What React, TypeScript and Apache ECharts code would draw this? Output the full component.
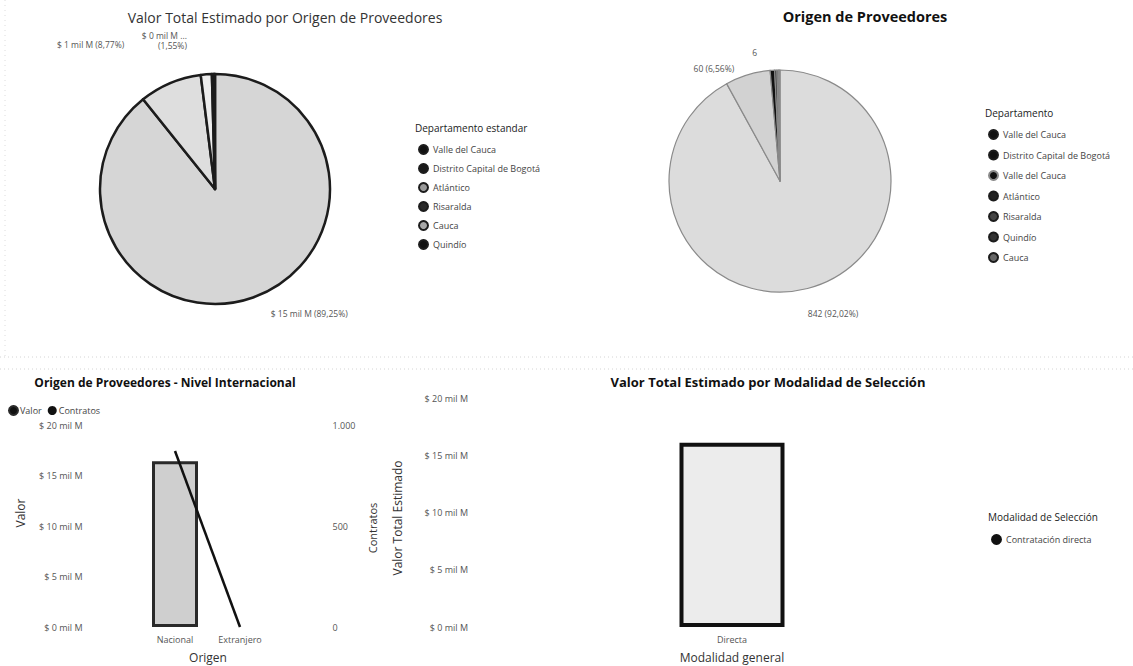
import React, { useEffect, useRef } from "react";
import * as echarts from "echarts";

// ---- data (values in "mil M") ----
const deptNames = ["Valle del Cauca", "Distrito Capital de Bogotá", "Atlántico", "Risaralda", "Cauca", "Quindío"];
const deptValor = [15.0, 1.474, 0.2605, 0.04, 0.02, 0.0125];
const deptColors = ["#d6d6d6", "#dedede", "#ededed", "#222222", "#bdbdbd", "#111111"];
const deptLegendColors = ["#111111", "#1a1a1a", "#9a9a9a", "#2a2a2a", "#a8a8a8", "#111111"];

const contrNames = ["Valle del Cauca", "Distrito Capital de Bogotá", "Valle del Cauca ", "Atlántico", "Risaralda", "Quindío", "Cauca"];
const contrValues = [842, 60, 6, 3, 2, 1, 1];
const contrColors = ["#dcdcdc", "#d2d2d2", "#111111", "#333333", "#555555", "#222222", "#777777"];
const contrLegendColors = ["#111111", "#111111", "#111111", "#222222", "#444444", "#333333", "#666666"];

const origenCategories = ["Nacional", "Extranjero"];
const origenValor = [16.4, 0];
const origenContratos = [871, 0];

const modalidadCategories = ["Directa"];
const modalidadValor = [16.1];

const FONT = "'Open Sans', 'DejaVu Sans', sans-serif";

const fmtMil = (v: number) => `$ ${Math.round(v)} mil M`;
const fmtPct = (p: number) => p.toFixed(2).replace(".", ",") + "%";
const fmtThousands = (v: number) => String(v).replace(/\B(?=(\d{3})+(?!\d))/g, ".");

const leftPieOffsets: Record<number, [number, number]> = { 0: [6, 11], 1: [-23, -42], 2: [-9, -29] };
const rightPieOffsets: Record<number, [number, number]> = { 0: [-11, 20], 1: [10, -8], 2: [-5, -13] };

export default function App() {
  const ref = useRef<HTMLDivElement>(null);
  useEffect(() => {
    if (!ref.current) return;
    const chart = echarts.init(ref.current, undefined, { renderer: "svg" });
    const axisLabelStyle = { fontSize: 9, color: "#555", fontFamily: FONT };
    const option: any = {
      animation: false,
      backgroundColor: "#ffffff",
      textStyle: { fontFamily: FONT },
      legend: [
        {
          orient: "vertical", left: 413, top: 139, itemGap: 8, itemWidth: 9, itemHeight: 9, icon: "circle",
          textStyle: { fontSize: 9, color: "#444" },
          data: deptNames.map((n, i) => ({ name: n, itemStyle: { color: deptLegendColors[i] } })),
          selectedMode: false,
        },
        {
          orient: "vertical", left: 983, top: 124, itemGap: 9.5, itemWidth: 9, itemHeight: 9, icon: "circle",
          textStyle: { fontSize: 9, color: "#444" },
          data: contrNames.map((n, i) => ({ name: n, itemStyle: { color: contrLegendColors[i] } })),
          selectedMode: false,
        },
        {
          orient: "horizontal", left: 3, top: 400, itemGap: 6, itemWidth: 9, itemHeight: 9, icon: "circle",
          textStyle: { fontSize: 9, color: "#444", padding: [0, 0, 0, -3] },
          data: [
            { name: "Valor", itemStyle: { color: "#111" } },
            { name: "Contratos", itemStyle: { color: "#111" } },
          ],
          selectedMode: false,
        },
        {
          orient: "vertical", left: 986, top: 529, itemWidth: 9, itemHeight: 9, icon: "circle",
          textStyle: { fontSize: 9, color: "#444" },
          data: [{ name: "Contratación directa", itemStyle: { color: "#111" } }],
          selectedMode: false,
        },
      ],
      grid: [
        { left: 142.5, width: 130, top: 425, bottom: 39 },
        { left: 476, width: 512, top: 398, bottom: 39 },
      ],
      xAxis: [
        {
          type: "category", gridIndex: 0, data: origenCategories,
          axisLine: { show: false }, axisTick: { show: false }, axisLabel: { ...axisLabelStyle, margin: 8 },
        },
        {
          type: "category", gridIndex: 1, data: modalidadCategories,
          axisLine: { show: false }, axisTick: { show: false }, axisLabel: { ...axisLabelStyle, margin: 8 },
        },
      ],
      yAxis: [
        {
          type: "value", gridIndex: 0, min: 0, max: 20, interval: 5,
          axisLabel: { ...axisLabelStyle, margin: 60, formatter: (v: number) => fmtMil(v) },
          splitLine: { show: false }, axisLine: { show: false }, axisTick: { show: false },
        },
        {
          type: "value", gridIndex: 0, position: "right", offset: 56, min: 0, max: 1000, interval: 500,
          axisLabel: { ...axisLabelStyle, margin: 4, formatter: (v: number) => fmtThousands(v) },
          splitLine: { show: false }, axisLine: { show: false }, axisTick: { show: false },
        },
        {
          type: "value", gridIndex: 1, min: 0, max: 20, interval: 5,
          axisLabel: { ...axisLabelStyle, margin: 8, formatter: (v: number) => fmtMil(v) },
          splitLine: { show: false }, axisLine: { show: false }, axisTick: { show: false },
        },
      ],
      series: [
        {
          type: "pie", name: "Valor por departamento", center: [215, 189], radius: 115,
          startAngle: 90, clockwise: true, percentPrecision: 2,
          data: deptNames.map((n, i) => ({
            name: n, value: deptValor[i], itemStyle: { color: deptColors[i] },
            label: { show: i < 3 },
          })),
          itemStyle: { borderColor: "#1c1c1c", borderWidth: 2.5 },
          label: {
            position: "outside", fontSize: 8.5, color: "#555", lineHeight: 10,
            formatter: (p: any) =>
              p.dataIndex === 2
                ? `${fmtMil(p.value)} ...\n(${fmtPct(p.percent)})`
                : `${fmtMil(p.value)} (${fmtPct(p.percent)})`,
          },
          labelLine: { show: false, length: 5, length2: 5 },
          labelLayout: (params: any) => {
            const o = leftPieOffsets[params.dataIndex] || [0, 0];
            return { dx: o[0], dy: o[1] };
          },
          emphasis: { disabled: true },
        },
        {
          type: "pie", name: "Contratos por departamento", center: [780, 181], radius: 111,
          startAngle: 90, clockwise: true, percentPrecision: 2,
          data: contrNames.map((n, i) => ({
            name: n, value: contrValues[i], itemStyle: { color: contrColors[i] },
            label: { show: i < 3 },
          })),
          itemStyle: { borderColor: "#8a8a8a", borderWidth: 1.2 },
          label: {
            position: "outside", fontSize: 8.5, color: "#555",
            formatter: (p: any) => (p.dataIndex === 2 ? `${p.value}` : `${p.value} (${fmtPct(p.percent)})`),
          },
          labelLine: { show: false, length: 5, length2: 5 },
          labelLayout: (params: any) => {
            const o = rightPieOffsets[params.dataIndex] || [0, 0];
            return { dx: o[0], dy: o[1] };
          },
          emphasis: { disabled: true },
        },
        {
          type: "bar", name: "Valor", xAxisIndex: 0, yAxisIndex: 0, barWidth: 46,
          data: origenValor.map((v) => ({ value: v, itemStyle: v === 0 ? { borderWidth: 0 } : {} })),
          itemStyle: { color: "#cfcfcf", borderColor: "#2a2a2a", borderWidth: 3 },
          emphasis: { disabled: true },
        },
        {
          type: "line", name: "Contratos", xAxisIndex: 0, yAxisIndex: 1, data: origenContratos,
          symbol: "none", lineStyle: { color: "#111", width: 2.5 }, itemStyle: { color: "#111" },
          emphasis: { disabled: true },
        },
        {
          type: "bar", name: "Contratación directa", xAxisIndex: 1, yAxisIndex: 2, data: modalidadValor, barWidth: 105,
          itemStyle: { color: "#ececec", borderColor: "#111", borderWidth: 4 },
          emphasis: { disabled: true },
        },
      ],
      graphic: [
        // panel separators
        { type: "line", shape: { x1: 0, y1: 357, x2: 1133, y2: 357 }, style: { stroke: "#d4d4d4", lineWidth: 1, lineDash: [1, 3] }, silent: true },
        { type: "line", shape: { x1: 0, y1: 369, x2: 1133, y2: 369 }, style: { stroke: "#d4d4d4", lineWidth: 1, lineDash: [1, 3] }, silent: true },
        { type: "line", shape: { x1: 5, y1: 0, x2: 5, y2: 360 }, style: { stroke: "#dcdcdc", lineWidth: 1, lineDash: [1, 4] }, silent: true },
        // titles
        { type: "text", x: 285, y: 17, style: { text: "Valor Total Estimado por Origen de Proveedores", fontSize: 14, fill: "#333", align: "center", verticalAlign: "middle", fontFamily: FONT } },
        { type: "text", x: 865, y: 16, style: { text: "Origen de Proveedores", fontSize: 14.5, fontWeight: "bold", fill: "#111", align: "center", verticalAlign: "middle", fontFamily: FONT } },
        { type: "text", x: 165, y: 382, style: { text: "Origen de Proveedores - Nivel Internacional", fontSize: 12, fontWeight: "bold", fill: "#111", align: "center", verticalAlign: "middle", fontFamily: FONT } },
        { type: "text", x: 768, y: 382, style: { text: "Valor Total Estimado por Modalidad de Selección", fontSize: 13, fontWeight: "bold", fill: "#111", align: "center", verticalAlign: "middle", fontFamily: FONT } },
        // legend titles
        { type: "text", x: 415, y: 128, style: { text: "Departamento estandar", fontSize: 10, fill: "#222", align: "left", verticalAlign: "middle", fontFamily: FONT } },
        { type: "text", x: 985, y: 113, style: { text: "Departamento", fontSize: 10, fill: "#222", align: "left", verticalAlign: "middle", fontFamily: FONT } },
        { type: "text", x: 988, y: 517, style: { text: "Modalidad de Selección", fontSize: 10, fill: "#222", align: "left", verticalAlign: "middle", fontFamily: FONT } },
        // axis names
        { type: "text", x: 20, y: 513, rotation: Math.PI / 2, style: { text: "Valor", fontSize: 12, fill: "#333", align: "center", verticalAlign: "middle", fontFamily: FONT } },
        { type: "text", x: 372, y: 528, rotation: Math.PI / 2, style: { text: "Contratos", fontSize: 11, fill: "#333", align: "center", verticalAlign: "middle", fontFamily: FONT } },
        { type: "text", x: 208, y: 657, style: { text: "Origen", fontSize: 12, fill: "#333", align: "center", verticalAlign: "middle", fontFamily: FONT } },
        { type: "text", x: 397, y: 518, rotation: Math.PI / 2, style: { text: "Valor Total Estimado", fontSize: 12, fill: "#333", align: "center", verticalAlign: "middle", fontFamily: FONT } },
        { type: "text", x: 732, y: 657, style: { text: "Modalidad general", fontSize: 12, fill: "#333", align: "center", verticalAlign: "middle", fontFamily: FONT } },
      ],
    };
    chart.setOption(option);
    return () => chart.dispose();
  }, []);
  return <div ref={ref} style={{ position: "fixed", left: 0, top: 0, width: 1133, height: 666 }} />;
}
